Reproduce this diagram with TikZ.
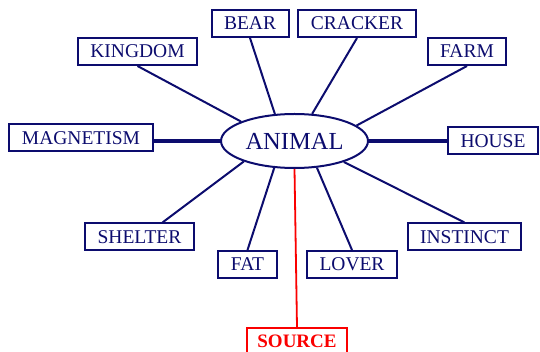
\documentclass[tikz,border=0pt]{standalone}
\usepackage{fontspec}
\setmainfont{Liberation Serif}
\usepackage{tikz}
\usetikzlibrary{shapes.geometric}
\definecolor{navyc}{RGB}{12,12,110}
\definecolor{srcc}{RGB}{250,0,0}

\begin{document}
\begin{tikzpicture}[x=1pt,y=-1pt,
  word/.style={draw=navyc,text=navyc,line width=2pt,minimum height=27pt,inner xsep=12.5pt,inner ysep=0pt,font=\fontsize{19.5}{22}\selectfont},
  hub/.style={draw=navyc,text=navyc,ellipse,line width=2pt,minimum width=147pt,minimum height=54pt,inner sep=0pt,font=\fontsize{24.5}{28}\selectfont},
  spoke/.style={navyc,line width=2pt},
  bar/.style={navyc,line width=3.5pt},
  srcbox/.style={draw=srcc,text=srcc,line width=1.8pt,minimum width=100pt,minimum height=27pt,inner sep=0pt,font=\fontsize{19}{22}\selectfont\bfseries}]
\useasboundingbox (0,0) rectangle (540,352);
% --- centre word ---
\node[hub] (animal) at (294.5,141) {ANIMAL};
% --- associated words ---
\node[word] (kingdom)   at (137.5,51.5) {KINGDOM};
\node[word] (bear)      at (250,23.5)   {BEAR};
\node[word] (cracker)   at (357,23.5)   {CRACKER};
\node[word] (farm)      at (467,51.5)   {FARM};
\node[word] (magnetism) at (81,138)     {MAGNETISM};
\node[word] (house)     at (493,141)    {HOUSE};
\node[word] (shelter)   at (139.5,237)  {SHELTER};
\node[word] (fat)       at (247.5,264.5){FAT};
\node[word] (lover)     at (352,264.5)  {LOVER};
\node[word] (instinct)  at (464.5,237)  {INSTINCT};
\node[srcbox] (source)  at (297,341.5)  {SOURCE};
% --- spokes ---
\draw[spoke] (kingdom.south) -- (animal.160);
\draw[spoke] (bear.south) -- (animal.126);
\draw[spoke] (cracker.south) -- (animal.57);
\draw[spoke] (farm.south) -- (animal.14);
\draw[bar] (magnetism.east |- animal.west) -- (animal.west);
\draw[bar] (animal.east) -- (house.west |- animal.east);
\draw[spoke] ([xshift=23pt]shelter.north) -- (animal.202);
\draw[spoke] (fat.north) -- (animal.233);
\draw[spoke] (lover.north) -- (animal.310);
\draw[spoke] (instinct.north) -- (animal.337);
\draw[srcc,line width=1.8pt] (animal.south) -- (source.north);
\end{tikzpicture}
\end{document}
